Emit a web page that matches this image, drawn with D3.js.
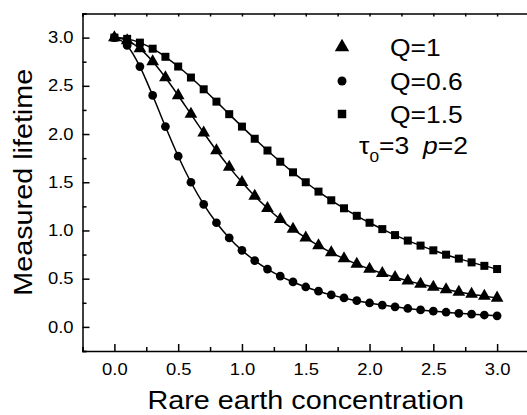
<!DOCTYPE html>
<html>
<head>
<meta charset="utf-8">
<script src="https://cdn.jsdelivr.net/npm/d3@7"></script>
<style>
  body { margin: 0; background: #fff; }
  svg { display: block; }
  text { font-family: "Liberation Sans", Arial, sans-serif; fill: #000; }
</style>
</head>
<body>
<svg id="chart"></svg>
<script>
const W = 527
const H = 415
const MARGIN = {top: 13.5, right: -2, bottom: 64, left: 82.5}

const concentration = [
  0, 0.1, 0.2, 0.3, 0.4, 0.5, 0.6, 0.7, 0.8, 0.9, 1.0,
  1.1, 1.2, 1.3, 1.4, 1.5, 1.6, 1.7, 1.8, 1.9, 2.0,
  2.1, 2.2, 2.3, 2.4, 2.5, 2.6, 2.7, 2.8, 2.9, 3.0
]
const lifetimeQ1 = [
  3.0, 2.970, 2.885, 2.752, 2.586, 2.400, 2.206, 2.013, 1.829, 1.657, 1.500,
  1.357, 1.230, 1.115, 1.014, 0.923, 0.843, 0.771, 0.708, 0.651, 0.600,
  0.555, 0.514, 0.477, 0.444, 0.414, 0.387, 0.362, 0.339, 0.319, 0.300
]
const lifetimeQ06 = [
  3.0, 2.919, 2.700, 2.400, 2.077, 1.770, 1.500, 1.271, 1.080, 0.923, 0.794,
  0.688, 0.600, 0.527, 0.466, 0.414, 0.370, 0.332, 0.300, 0.272, 0.248,
  0.226, 0.208, 0.191, 0.176, 0.163, 0.152, 0.141, 0.132, 0.123, 0.115
]
const lifetimeQ15 = [
  3.0, 2.987, 2.948, 2.885, 2.801, 2.700, 2.586, 2.464, 2.336, 2.206, 2.077,
  1.951, 1.829, 1.713, 1.603, 1.500, 1.403, 1.313, 1.230, 1.152, 1.080,
  1.014, 0.952, 0.895, 0.843, 0.794, 0.749, 0.708, 0.669, 0.633, 0.600
]
const seriesNames = ["Q=1", "Q=0.6", "Q=1.5"]
const seriesValues = [lifetimeQ1, lifetimeQ06, lifetimeQ15]
const seriesSymbols = [d3.symbolTriangle, d3.symbolCircle, d3.symbolSquare]
const majorTicks = [0, 0.5, 1.0, 1.5, 2.0, 2.5, 3.0]
const minorTicks = [-0.25, 0.25, 0.75, 1.25, 1.75, 2.25, 2.75, 3.25]

// the glyphs in the original are a bit wider than Arial, stretch them
const TEXT_STRETCH = 1.15

function stretch(sel) {
  sel.each(function () {
    const len = this.getComputedTextLength()
    d3.select(this)
      .attr("textLength", len * TEXT_STRETCH)
      .attr("lengthAdjust", "spacingAndGlyphs")
  })
}

const svg = d3.select("#chart").attr("width", W).attr("height", H)

const x = d3
  .scaleLinear()
  .domain([-0.25, 3.25])
  .range([MARGIN.left, W - MARGIN.right])
const y = d3
  .scaleLinear()
  .domain([-0.25, 3.25])
  .range([H - MARGIN.bottom, MARGIN.top])

const fmt = d3.format(".1f")

// bottom axis
const xAxis = svg
  .append("g")
  .attr("transform", `translate(0,${y(-0.25)})`)
xAxis
  .call(d3.axisBottom(x).tickValues(minorTicks).tickSize(-4).tickFormat(""))
xAxis
  .append("g")
  .call(d3.axisBottom(x).tickValues(majorTicks).tickSize(-7).tickFormat(fmt))
  .call((g) => g.select(".domain").remove())
xAxis.selectAll("path, line").attr("stroke", "#000").attr("stroke-width", 1.5)
xAxis
  .selectAll("text")
  .attr("y", 13)
  .attr("dy", "0.71em")
  .style("font-size", "16px")
  .call(stretch)

// left axis
const yAxis = svg.append("g").attr("transform", `translate(${x(-0.25)},0)`)
yAxis.call(d3.axisLeft(y).tickValues(minorTicks).tickSize(-4).tickFormat(""))
yAxis
  .append("g")
  .call(d3.axisLeft(y).tickValues(majorTicks).tickSize(-7).tickFormat(fmt))
  .call((g) => g.select(".domain").remove())
yAxis.selectAll("path, line").attr("stroke", "#000").attr("stroke-width", 1.5)
yAxis
  .selectAll("text")
  .attr("x", -9)
  .style("font-size", "16px")
  .call(stretch)

// top frame line
const topAxis = svg.append("g").attr("transform", `translate(0,${y(3.25)})`)
topAxis
  .call(d3.axisTop(x).tickValues(majorTicks.concat(minorTicks)).tickSize(-3).tickFormat(""))
topAxis.selectAll("path, line").attr("stroke", "#000").attr("stroke-width", 1.5)

// axis titles
svg
  .append("text")
  .attr("x", (x.range()[0] + x.range()[1]) / 2)
  .attr("y", 409)
  .attr("text-anchor", "middle")
  .style("font-size", "25px")
  .text("Rare earth concentration")
  .call(stretch)

svg
  .append("text")
  .attr("transform", `translate(32,${(y.range()[0] + y.range()[1]) / 2}) rotate(-90)`)
  .attr("text-anchor", "middle")
  .style("font-size", "25px")
  .text("Measured lifetime")
  .call(stretch)

// series
const line = d3
  .line()
  .x((d, i) => x(concentration[i]))
  .y((d) => y(d))
  .curve(d3.curveMonotoneX)

const symbolSizes = [70, 60, 64]
const legendSizes = [90, 64, 72]

seriesValues.forEach((vals, k) => {
  svg
    .append("path")
    .attr("d", line(vals))
    .attr("fill", "none")
    .attr("stroke", "#000")
    .attr("stroke-width", 1.5)
  svg
    .append("g")
    .selectAll("path")
    .data(vals)
    .join("path")
    .attr("transform", (d, i) => `translate(${x(concentration[i])},${y(d)})`)
    .attr("d", d3.symbol(seriesSymbols[k], symbolSizes[k]))
    .attr("fill", "#000")
})

// legend
const legendY = [47, 81, 114]
const legend = svg.append("g")
seriesNames.forEach((name, k) => {
  legend
    .append("path")
    .attr("transform", `translate(342,${legendY[k]})`)
    .attr("d", d3.symbol(seriesSymbols[k], legendSizes[k]))
    .attr("fill", "#000")
  legend
    .append("text")
    .attr("x", 390)
    .attr("y", legendY[k] + 9)
    .style("font-size", "23px")
    .text(name)
    .call(stretch)
})

// parameters note
const tau = legend
  .append("text")
  .attr("x", 359)
  .attr("y", 154)
  .style("font-size", "23px")
tau.append("tspan").text("\u03c4")
tau.append("tspan").attr("dy", 8).style("font-size", "15px").text("0")
tau.append("tspan").attr("dy", -8).text("=3")
tau.call(stretch)

const pNote = legend
  .append("text")
  .attr("x", 423)
  .attr("y", 154)
  .style("font-size", "23px")
pNote.append("tspan").style("font-style", "italic").text("p")
pNote.append("tspan").text("=2")
pNote.call(stretch)
</script>
</body>
</html>
